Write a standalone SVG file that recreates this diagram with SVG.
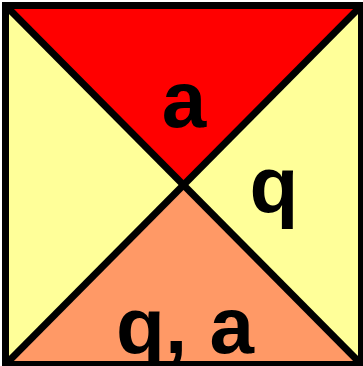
<svg xmlns="http://www.w3.org/2000/svg" width="363" height="366" viewBox="0 0 363 366">
<style>
.t{font-family:"Liberation Sans",Arial,sans-serif;font-weight:bold;font-size:80px;fill:#000;text-anchor:middle}
.e{stroke:#000;stroke-width:7;stroke-linejoin:miter}
</style>
<g id="left"><polygon points="5.5,5.5 183.5,185 5.5,364.5" fill="#FFFF99"/></g>
<g id="right"><polygon points="361.5,5.5 183.5,185 361.5,364.5" fill="#FFFF99"/><text class="t" x="274" y="212">q</text></g>
<g id="top"><polygon points="5.5,5.5 361.5,5.5 183.5,185" fill="#FF0000"/><text class="t" x="184" y="127">a</text></g>
<g id="bottom"><polygon points="5.5,364.5 361.5,364.5 183.5,185" fill="#FF9966"/><text class="t" x="185" y="353">q, a</text></g>
<g id="connectors" fill="none" class="e">
<line x1="5.5" y1="5.5" x2="361.5" y2="364.5"/>
<line x1="361.5" y1="5.5" x2="5.5" y2="364.5"/>
<rect x="5.5" y="5.5" width="356" height="359"/>
</g>
</svg>
